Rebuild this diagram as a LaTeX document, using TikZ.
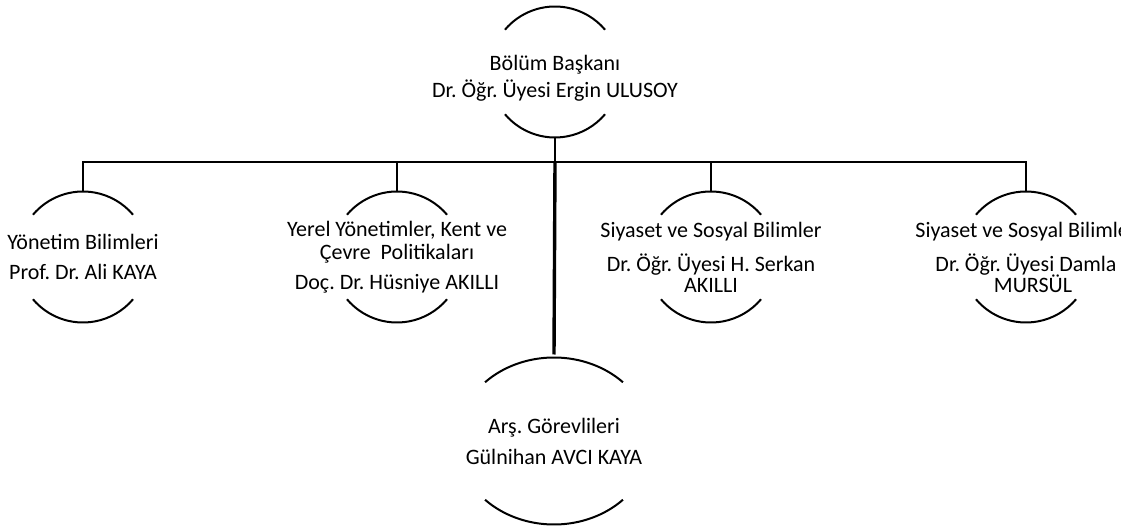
\documentclass[tikz,border=0pt]{standalone}
\usepackage{fontspec}
\setmainfont{Carlito}
\frenchspacing
\begin{document}
\begin{tikzpicture}[x=1pt,y=1pt,
  unit/.style={draw=none,inner sep=0pt,outer sep=0pt,minimum height=131pt,align=center,
    font=\fontsize{22}{23}\selectfont\frenchspacing},
  bigunit/.style={unit,minimum height=167pt},
  arcline/.style={line width=2pt},
  conn/.style={line width=2.4pt},
  trunk/.style={line width=3.4pt}]
\useasboundingbox (0,0) rectangle (1121,530);
% nodes
\node[unit] (n0) at (555,458) {\rule{0pt}{27pt}Bölüm Başkanı\\[4pt]Dr. Öğr. Üyesi Ergin ULUSOY};
\node[unit] (n1) at (83,273) {Yönetim Bilimleri\\[7pt]Prof. Dr. Ali KAYA};
\node[unit] (n2) at (397,273) {Yerel Yönetimler, Kent ve\\Çevre\ \ Politikaları\\[7pt]Doç. Dr. Hüsniye AKILLI};
\node[unit] (n3) at (711,273) {Siyaset ve Sosyal Bilimler\\[11pt]Dr. Öğr. Üyesi H. Serkan\\[-2pt]AKILLI};
\node[unit] (n4) at (1026,273) {Siyaset ve Sosyal Bilimler\\[11pt]Dr. Öğr. Üyesi Damla\hspace*{16pt}\\[-2pt]\hspace*{14pt}MURSÜL};
\node[bigunit] (n5) at (554,89) {Arş. Görevlileri\\[8pt]Gülnihan AVCI KAYA};
% arcs
\foreach \n in {n0,n1,n2,n3,n4}{
  \draw[arcline] ([shift={(139.8:65.5)}]\n.center) arc[start angle=139.8,end angle=40.2,radius=65.5];
  \draw[arcline] ([shift={(-139.8:65.5)}]\n.center) arc[start angle=-139.8,end angle=-40.2,radius=65.5];
}
\draw[arcline] ([shift={(135.3:97 and 83.5)}]n5.center) arc[start angle=135.3,end angle=44.7,x radius=97,y radius=83.5];
\draw[arcline] ([shift={(-135.3:97 and 83.5)}]n5.center) arc[start angle=-135.3,end angle=-44.7,x radius=97,y radius=83.5];
% connectors
\coordinate (bus) at (555,368);
\draw[conn] (n1.north) |- (bus) -| (n4.north);
\draw[conn] (n0.south) -- (bus);
\draw[conn] (n2.north) -- (n2.north |- bus);
\draw[conn] (n3.north) -- (n3.north |- bus);
\draw[trunk] (bus) -- ([yshift=3pt]n5.north);
\end{tikzpicture}
\end{document}
